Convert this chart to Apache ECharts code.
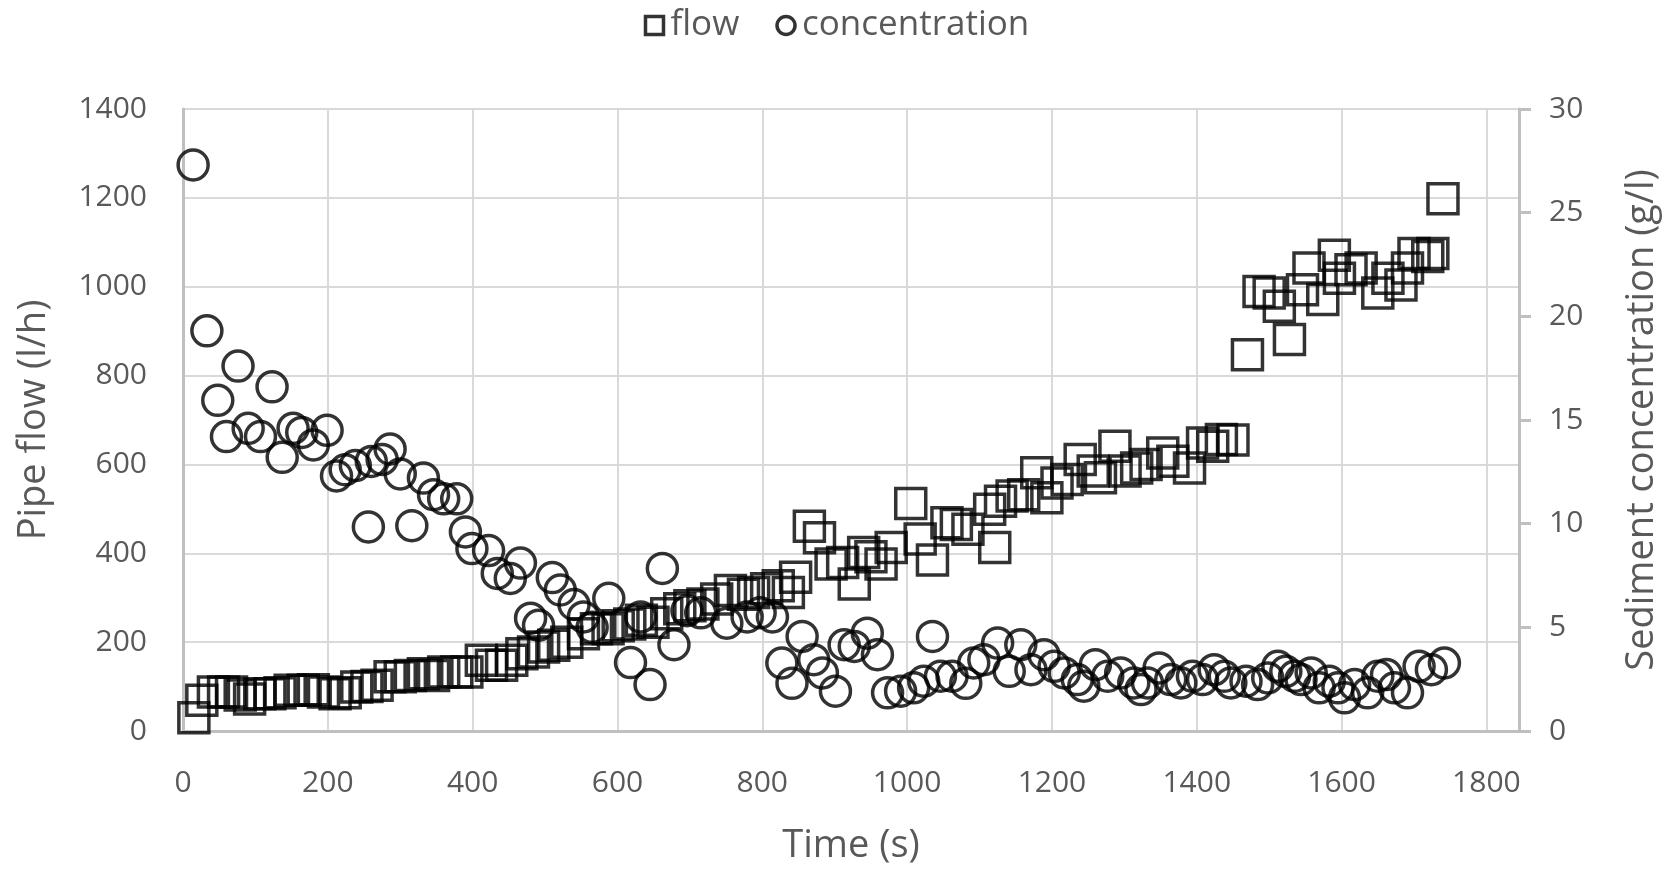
<!DOCTYPE html>
<html>
<head>
<meta charset="utf-8">
<title>Pipe flow and sediment concentration</title>
<script src="https://cdn.jsdelivr.net/npm/echarts@6/dist/echarts.min.js"></script>
<style>
  html, body { margin: 0; padding: 0; background: #fff; }
  #chart { width: 1673px; height: 870px; }
</style>
</head>
<body>
<div id="chart"></div>
<script>
// time (s) and pipe flow (l/h)
var flowTime = [15, 26, 42, 56, 67, 79, 92, 106, 120, 134, 148, 166, 180, 194, 210, 224, 240, 254, 268, 286,
  300, 314, 332, 346, 360, 378, 392, 412, 426, 440, 454, 468, 484, 498, 512, 530, 553, 571, 587, 601,
  617, 633, 649, 668, 686, 700, 718, 737, 756, 774, 788, 806, 822, 836, 846, 865, 879, 895, 911, 927,
  940, 950, 964, 978, 1005, 1018, 1035, 1055, 1068, 1084, 1121, 1114, 1129, 1145, 1161, 1179, 1193, 1207, 1221, 1239,
  1257, 1267, 1287, 1301, 1317, 1330, 1353, 1367, 1390, 1408, 1422, 1434, 1450, 1470, 1486, 1500, 1514, 1528, 1546, 1555,
  1574, 1590, 1597, 1613, 1627, 1650, 1664, 1682, 1691, 1700, 1719, 1726, 1740]
var flowValue = [30, 69, 88, 88, 88, 81, 72, 84, 84, 86, 92, 92, 93, 88, 84, 86, 99, 100, 103, 122,
  122, 125, 129, 125, 133, 133, 133, 159, 148, 148, 159, 174, 178, 189, 193, 200, 219, 230, 230, 237,
  241, 249, 245, 264, 275, 282, 286, 297, 316, 308, 312, 320, 327, 312, 346, 461, 435, 376, 379, 331,
  402, 392, 376, 413, 512, 432, 385, 469, 465, 454, 413, 499, 517, 529, 532, 581, 525, 558, 566, 611,
  585, 570, 641, 585, 592, 600, 626, 607, 592, 648, 641, 656, 655, 847, 989, 986, 956, 881, 993, 1042,
  971, 1071, 1019, 1038, 1042, 986, 1019, 1004, 1042, 1075, 1068, 1075, 1198]

// time (s) and sediment concentration (g/l)
var concTime = [14, 33, 48, 60, 76, 90, 107, 123, 137, 152, 164, 180, 199, 212, 224, 238, 256, 260, 275, 286,
  300, 316, 332, 346, 360, 378, 390, 399, 422, 434, 452, 466, 480, 491, 510, 521, 540, 553, 565, 588,
  618, 632, 645, 662, 678, 696, 715, 751, 779, 797, 814, 827, 841, 855, 871, 883, 901, 913, 927, 945,
  959, 973, 991, 1009, 1023, 1035, 1046, 1062, 1081, 1092, 1106, 1125, 1141, 1157, 1171, 1189, 1203, 1217, 1235, 1244,
  1260, 1277, 1295, 1313, 1323, 1332, 1348, 1364, 1378, 1394, 1408, 1424, 1438, 1447, 1468, 1484, 1498, 1512, 1523, 1535,
  1544, 1558, 1569, 1583, 1595, 1604, 1618, 1636, 1650, 1662, 1673, 1691, 1707, 1724, 1742]
var concValue = [27.3, 19.3, 15.95, 14.2, 17.6, 14.6, 14.2, 16.6, 13.2, 14.6, 14.4, 13.8, 14.5, 12.3, 12.6, 12.8, 9.84, 13.0, 13.1, 13.6,
  12.4, 9.9, 12.2, 11.4, 11.2, 11.2, 9.6, 8.8, 8.7, 7.6, 7.36, 8.1, 5.44, 5.1, 7.4, 6.8, 6.1, 5.5, 5.0, 6.4,
  3.3, 5.5, 2.24, 7.84, 4.16, 5.8, 5.7, 5.2, 5.5, 5.7, 5.5, 3.28, 2.3, 4.56, 3.44, 2.8, 1.92, 4.16, 4.08, 4.72,
  3.68, 1.84, 1.92, 2.08, 2.4, 4.56, 2.64, 2.64, 2.3, 3.28, 3.44, 4.24, 2.88, 4.16, 2.96, 3.68, 3.12, 2.8, 2.48, 2.16,
  3.2, 2.64, 2.8, 2.32, 2.0, 2.32, 3.04, 2.48, 2.32, 2.64, 2.48, 2.96, 2.64, 2.32, 2.4, 2.24, 2.56, 3.12, 2.88, 2.64,
  2.48, 2.8, 2.08, 2.4, 2.08, 1.6, 2.24, 1.84, 2.64, 2.72, 2.08, 1.84, 3.12, 2.96, 3.28]

var textColor = '#595959'
var fontFamily = '"Open Sans", "Noto Sans", sans-serif'

function pairs(xs, ys) {
  return xs.map(function (x, i) { return [x, ys[i]] })
}

var chart = echarts.init(document.getElementById('chart'))
chart.setOption({
  animation: false,
  backgroundColor: '#fff',
  textStyle: { fontFamily: fontFamily, color: textColor },
  legend: {
    top: 3,
    left: 'center',
    itemWidth: 18,
    itemHeight: 18,
    itemGap: 36,
    itemStyle: { borderWidth: 3.5, borderColor: '#000', color: 'rgba(0,0,0,0)' },
    textStyle: { fontSize: 35, color: textColor, fontFamily: fontFamily, padding: [0, 0, 0, 2] },
    data: ['flow', 'concentration']
  },
  grid: {
    left: 183,
    right: 154,
    top: 109,
    bottom: 136
  },
  xAxis: {
    type: 'value',
    min: 0,
    max: 1845,
    interval: 200,
    name: 'Time (s)',
    nameLocation: 'middle',
    nameGap: 96,
    nameTextStyle: { fontSize: 38, color: textColor },
    axisLine: { show: true, lineStyle: { color: '#bfbfbf', width: 3 } },
    axisTick: { show: false },
    axisLabel: {
      fontSize: 30,
      color: textColor,
      margin: 37,
      showMaxLabel: false,
      formatter: function (v) { return v % 200 === 0 ? String(v) : '' }
    },
    splitLine: { show: true, lineStyle: { color: '#d9d9d9', width: 2 } }
  },
  yAxis: [{
    type: 'value',
    min: 0,
    max: 1400,
    interval: 200,
    name: 'Pipe flow (l/h)',
    nameLocation: 'middle',
    nameRotate: 90,
    nameGap: 130,
    nameTextStyle: { fontSize: 38, color: textColor },
    axisLine: { show: true, lineStyle: { color: '#bfbfbf', width: 3 } },
    axisTick: { show: false },
    axisLabel: {
      fontSize: 30,
      color: textColor,
      margin: 36,
      formatter: function (v) { return String(v) }
    },
    splitLine: { show: true, lineStyle: { color: '#d9d9d9', width: 2 } }
  }, {
    type: 'value',
    position: 'right',
    min: 0,
    max: 30,
    interval: 5,
    name: 'Sediment concentration (g/l)',
    nameLocation: 'middle',
    nameRotate: 90,
    nameGap: 104,
    nameTextStyle: { fontSize: 38, color: textColor },
    axisLine: { show: true, lineStyle: { color: '#bfbfbf', width: 3 } },
    axisTick: { show: true, length: 12, lineStyle: { color: '#bfbfbf', width: 3 } },
    axisLabel: { fontSize: 30, color: textColor, margin: 30 },
    splitLine: { show: false }
  }],
  series: [{
    name: 'flow',
    type: 'scatter',
    yAxisIndex: 0,
    symbol: 'rect',
    symbolSize: 30,
    itemStyle: { color: 'rgba(0,0,0,0)', borderColor: '#000', borderWidth: 3.5 },
    data: pairs(flowTime, flowValue)
  }, {
    name: 'concentration',
    type: 'scatter',
    yAxisIndex: 1,
    symbol: 'circle',
    symbolSize: 30,
    itemStyle: { color: 'rgba(0,0,0,0)', borderColor: '#000', borderWidth: 3.5 },
    data: pairs(concTime, concValue)
  }]
})
</script>
</body>
</html>
